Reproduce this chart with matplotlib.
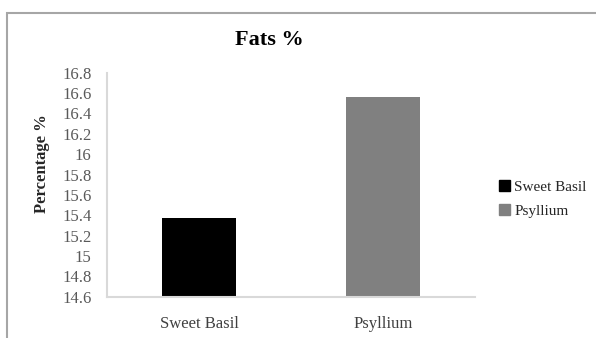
import matplotlib
matplotlib.use("Agg")
import matplotlib.pyplot as plt
from matplotlib.patches import Rectangle, Patch

categories = ["Sweet Basil", "Psyllium"]
values = [15.37, 16.56]
colors = ["#000000", "#808080"]
yticks = [14.6, 14.8, 15, 15.2, 15.4, 15.6, 15.8, 16, 16.2, 16.4, 16.6, 16.8]
ytick_labels = ["14.6", "14.8", "15", "15.2", "15.4", "15.6", "15.8", "16",
                "16.2", "16.4", "16.6", "16.8"]

plt.rcParams["font.family"] = ["Liberation Serif", "DejaVu Serif"]

fig = plt.figure(figsize=(5.96, 3.38), dpi=100)
ax = fig.add_axes([107 / 596, 1 - 296.7 / 338, 368 / 596, 224 / 338])

x = list(range(len(categories)))
ax.bar(x, values, width=0.40, color=colors, bottom=0)
ax.set_xlim(-0.5, 1.5)
ax.set_ylim(14.6, 16.8)
ax.set_yticks(yticks)
ax.set_yticklabels(ytick_labels)
ax.set_xticks(x)
ax.set_xticklabels(categories)
ax.tick_params(axis="y", length=0, pad=11, labelsize=12, labelcolor="#595959")
ax.tick_params(axis="x", length=0, pad=14, labelsize=12, labelcolor="#404040")

for s in ["top", "right"]:
    ax.spines[s].set_visible(False)
for s in ["left", "bottom"]:
    ax.spines[s].set_color("#d9d9d9")
    ax.spines[s].set_linewidth(1.5)

fig.text(269 / 596, 1 - 40 / 338, "Fats %", ha="center", va="center",
         fontsize=16, fontweight="bold")
fig.text(42 / 596, 1 - 164 / 338, "Percentage %", ha="center", va="center",
         rotation=90, fontsize=12, fontweight="bold", color="#262626")

handles = [Patch(facecolor=c, edgecolor=c) for c in colors]
fig.legend(handles, categories, loc="center left",
           bbox_to_anchor=(499 / 596, 1 - 199 / 338), frameon=False,
           borderaxespad=0, borderpad=0,
           fontsize=11, handlelength=0.7, handleheight=0.7, handletextpad=0.3,
           labelspacing=0.7, labelcolor="#262626")

fig.patches.append(Rectangle((7.5 / 596, -0.1), 1.2, 1 - 13 / 338 + 0.1,
                             transform=fig.transFigure, fill=False,
                             edgecolor="#a6a6a6", linewidth=1.5))

fig.savefig("out.png", dpi=100)
